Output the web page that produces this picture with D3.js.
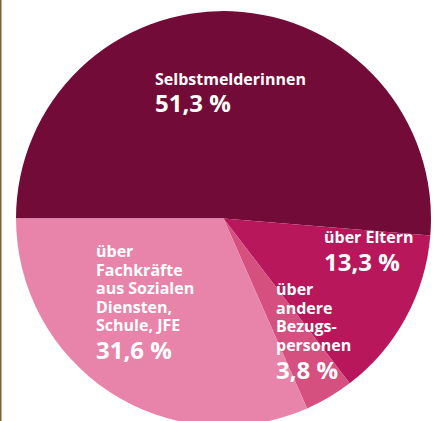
<!DOCTYPE html>
<html>
<head>
<meta charset="utf-8">
<script src="https://cdn.jsdelivr.net/npm/d3@7"></script>
<style>
  body { margin: 0; background: #fff; }
  svg text { font-family: "Open Sans", "Noto Sans", sans-serif; font-weight: 700; fill: #fff; }
</style>
</head>
<body>
<svg id="chart" width="438" height="421"></svg>
<script>
const categories = ["Selbstmelderinnen", "über Eltern", "über andere Bezugspersonen", "über Fachkräfte aus Sozialen Diensten, Schule, JFE"];
const values = [51.3, 13.3, 3.8, 31.6];
const labelLines = [
  ["Selbstmelderinnen"],
  ["über Eltern"],
  ["über", "andere", "Bezugs-", "personen"],
  ["über", "Fachkräfte", "aus Sozialen", "Diensten,", "Schule, JFE"]
];
const colors = ["#720b37", "#b8175b", "#d5507f", "#e884a9"];

// first baseline of each label block, layout only
const labelAt = [[155, 85], [324, 243], [276, 295], [96, 257]];
const lineGap = 18.5;

const svg = d3.select("#chart");
const cx = 223.5, cy = 218.5, r = 207.5;

// thin edge line on the left
svg.append("line")
  .attr("x1", 0.75).attr("x2", 0.75).attr("y1", 0).attr("y2", 421)
  .attr("stroke", "#7a6332").attr("stroke-width", 1.5);

const pie = d3.pie().sort(null)
  .startAngle(-Math.PI / 2).endAngle(Math.PI * 1.5)
  .value(d => d);
const arc = d3.arc().innerRadius(0).outerRadius(r);

const g = svg.append("g").attr("transform", `translate(${cx},${cy})`);
g.selectAll("path")
  .data(pie(values))
  .join("path")
  .attr("d", arc)
  .attr("fill", (d, i) => colors[i]);

const fmt = v => d3.format(".1f")(v).replace(".", ",") + " %";

labelLines.forEach((lines, i) => {
  const [x, y] = labelAt[i];
  const t = svg.append("text").style("font-size", "16px");
  lines.forEach((l, j) => {
    t.append("tspan").attr("x", x).attr("y", y + j * lineGap).text(l);
  });
  svg.append("text")
    .attr("x", x)
    .attr("y", y + (lines.length - 1) * lineGap + (i === 0 ? 27 : 28))
    .style("font-size", "24px")
    .text(fmt(values[i]));
});
</script>
</body>
</html>
